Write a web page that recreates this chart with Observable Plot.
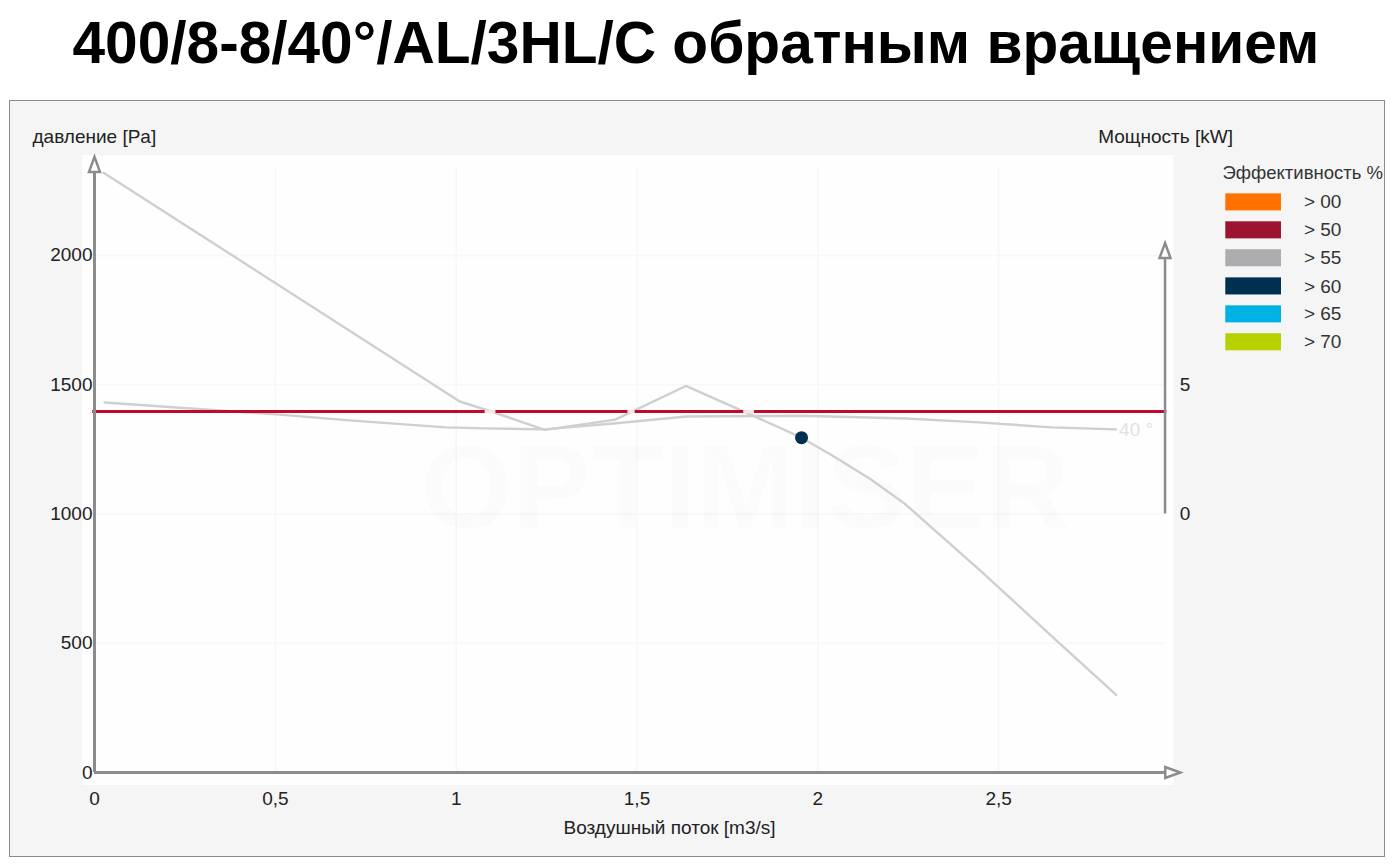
<!DOCTYPE html>
<html>
<head>
<meta charset="utf-8">
<script src="https://cdn.jsdelivr.net/npm/d3@7"></script>
<script src="https://cdn.jsdelivr.net/npm/@observablehq/plot@0.6"></script>
<style>
html,body{margin:0;padding:0;background:#fff;width:1392px;height:864px;overflow:hidden}
#title{position:absolute;left:0;top:8px;width:1392px;text-align:center;font:bold 58.6px "Liberation Sans",Arial,sans-serif;line-height:70px;color:#000;white-space:nowrap;margin:0}
#panel{position:absolute;left:9px;top:100px;width:1374px;height:755px;background:#f5f5f5;border:1px solid #8a8a8a;overflow:hidden}
#panel svg{display:block;background:transparent}
</style>
</head>
<body>
<h1 id="title">400/8-8/40°/AL/3HL/C обратным вращением</h1>
<div id="panel"></div>
<script>
const titleX = "Воздушный поток [m3/s]";
const titleY = "давление [Pa]";
const titleP = "Мощность [kW]";
const legendTitle = "Эффективность %";
const xTicks = [0, 0.5, 1, 1.5, 2, 2.5];
const xLabels = ["0", "0,5", "1", "1,5", "2", "2,5"];
const yTicks = [0, 500, 1000, 1500, 2000];
const powerTicks = [1000, 1500];
const powerLabels = ["0", "5"];

const flowA = [0.025, 1.01, 1.09, 1.245, 1.44, 1.635, 1.805, 1.955, 2.04, 2.145, 2.24, 2.45, 2.66, 2.825];
const pressureA = [2320, 1435, 1400, 1325, 1365, 1495, 1390, 1295, 1226, 1135, 1040, 780, 510, 300];
const flowB = [0.028, 0.503, 0.705, 0.971, 1.079, 1.242, 1.435, 1.637, 1.955, 2.243, 2.445, 2.647, 2.824];
const pressureB = [1431, 1385, 1362, 1335, 1331, 1327, 1350, 1377, 1380, 1369, 1354, 1335, 1327];

const requiredFlow = [1.955];
const requiredPressure = [1295];
const systemPressure = 1396;
const gapFrom = [1.08, 1.475, 1.795];
const gapTo = [1.11, 1.495, 1.825];

const legendLabels = ["> 00", "> 50", "> 55", "> 60", "> 65", "> 70"];
const legendColors = ["#ff7200", "#9b1530", "#adadb0", "#00304f", "#00b2e3", "#b7d100"];
const legendY = [2205, 2097, 1989, 1880, 1772, 1664];

const W = 1374, H = 755;
const ox = 10, oy = 101;
const fontBase = "Liberation Sans, Arial, sans-serif";

const pts = (xs, ys) => xs.map((x, i) => ({x, y: ys[i]}));
const ink = "#222";
const gridInk = "#f3f3f3";
const axisInk = "#8c8c8c";
const arrow = {draw(ctx) { ctx.moveTo(0, -8); ctx.lineTo(5.5, 7); ctx.lineTo(-5.5, 7); ctx.closePath(); }};

const chart = Plot.plot({
  width: W, height: H,
  marginLeft: 94 - ox, marginRight: W - (1179 - ox),
  marginTop: 152 - oy, marginBottom: oy + H - 772,
  style: {fontFamily: fontBase, background: "transparent", overflow: "visible"},
  x: {domain: [0, 3], axis: null},
  y: {domain: [0, 2398], axis: null},
  marks: [
    Plot.rect([0], {x1: -0.033, x2: 2.985, y1: -50, y2: 2386, fill: "#fefefe"}),
    Plot.ruleX(xTicks.slice(1), {y1: 0, y2: 2340, stroke: gridInk}),
    Plot.ruleY(yTicks.slice(1), {x1: 0, x2: 2.96, stroke: "#f8f8f8", strokeWidth: 2}),
    Plot.text(["OPTIMISER"], {x: 1.8, y: 1090, fontSize: 118, fontWeight: "bold", fill: "#000", fillOpacity: 0.012, textAnchor: "middle"}),

    Plot.line(pts(flowB, pressureB), {x: "x", y: "y", stroke: "#cfcfcf", strokeWidth: 2.4}),
    Plot.line(pts(flowA, pressureA), {x: "x", y: "y", stroke: "#cfcfcf", strokeWidth: 2.4}),
    Plot.ruleY([systemPressure], {x1: -0.005, x2: 2.965, stroke: "#bf0a30", strokeWidth: 3}),
    Plot.ruleY(gapFrom.map((v, i) => ({a: v, b: gapTo[i]})), {x1: "a", x2: "b", y: () => systemPressure, stroke: "#f7e4e6", strokeWidth: 3.5}),
    Plot.text(["40 °"], {x: 2.88, y: 1325, fontSize: 19, fill: "#e2e2e2", textAnchor: "middle"}),
    Plot.dot(pts(requiredFlow, requiredPressure), {x: "x", y: "y", r: 6.5, fill: "#00304f"}),

    Plot.ruleX([0], {y1: 0, y2: 2320, stroke: axisInk, strokeWidth: 3}),
    Plot.ruleY([0], {x1: 0, x2: 2.96, stroke: axisInk, strokeWidth: 3}),
    Plot.ruleX([2.96], {y1: 1000, y2: 1990, stroke: axisInk, strokeWidth: 2.5}),
    Plot.dot([{x: 0, y: 2350}], {x: "x", y: "y", symbol: arrow, r: 5.5, fill: "#fff", stroke: axisInk, strokeWidth: 2.5}),
    Plot.dot([{x: 2.96, y: 2017}], {x: "x", y: "y", symbol: arrow, r: 5.5, fill: "#fff", stroke: axisInk, strokeWidth: 2.5}),
    Plot.dot([{x: 2.98, y: 0}], {x: "x", y: "y", symbol: arrow, rotate: 90, r: 5.5, fill: "#fff", stroke: axisInk, strokeWidth: 2.5}),

    Plot.text(xTicks, {x: d => d, y: 0, text: (d, i) => xLabels[i], dy: 26, fontSize: 19, fill: ink, textAnchor: "middle"}),
    Plot.text(yTicks, {x: 0, y: d => d, text: d => String(d), dx: -2, fontSize: 19, fill: ink, textAnchor: "end"}),
    Plot.text(powerTicks, {x: 2.96, y: d => d, text: (d, i) => powerLabels[i], dx: 20, fontSize: 19, fill: ink, textAnchor: "middle"}),
    Plot.text([titleX], {x: 1.59, y: 0, dy: 55, fontSize: 19, fill: ink, textAnchor: "middle"}),
    Plot.text([titleY], {x: 0, y: 2398, dx: -62, dy: -16, fontSize: 19, fill: ink, textAnchor: "start"}),
    Plot.text([titleP], {x: 2.85, y: 2398, dx: -27, dy: -16, fontSize: 19, fill: ink, textAnchor: "start"}),

    Plot.text([legendTitle], {x: 3.0, y: 2320, dx: 43, fontSize: 18.5, fill: "#333", textAnchor: "start"}),
    Plot.rect(legendLabels, {x1: () => 3.128, x2: () => 3.282, y1: (d, i) => legendY[i] - 33, y2: (d, i) => legendY[i] + 33, fill: (d, i) => legendColors[i]}),
    Plot.text(legendLabels, {x: () => 3.344, y: (d, i) => legendY[i], text: d => d, fontSize: 19, fill: "#333", textAnchor: "start"})
  ]
});
document.getElementById("panel").appendChild(chart);
</script>
</body>
</html>
